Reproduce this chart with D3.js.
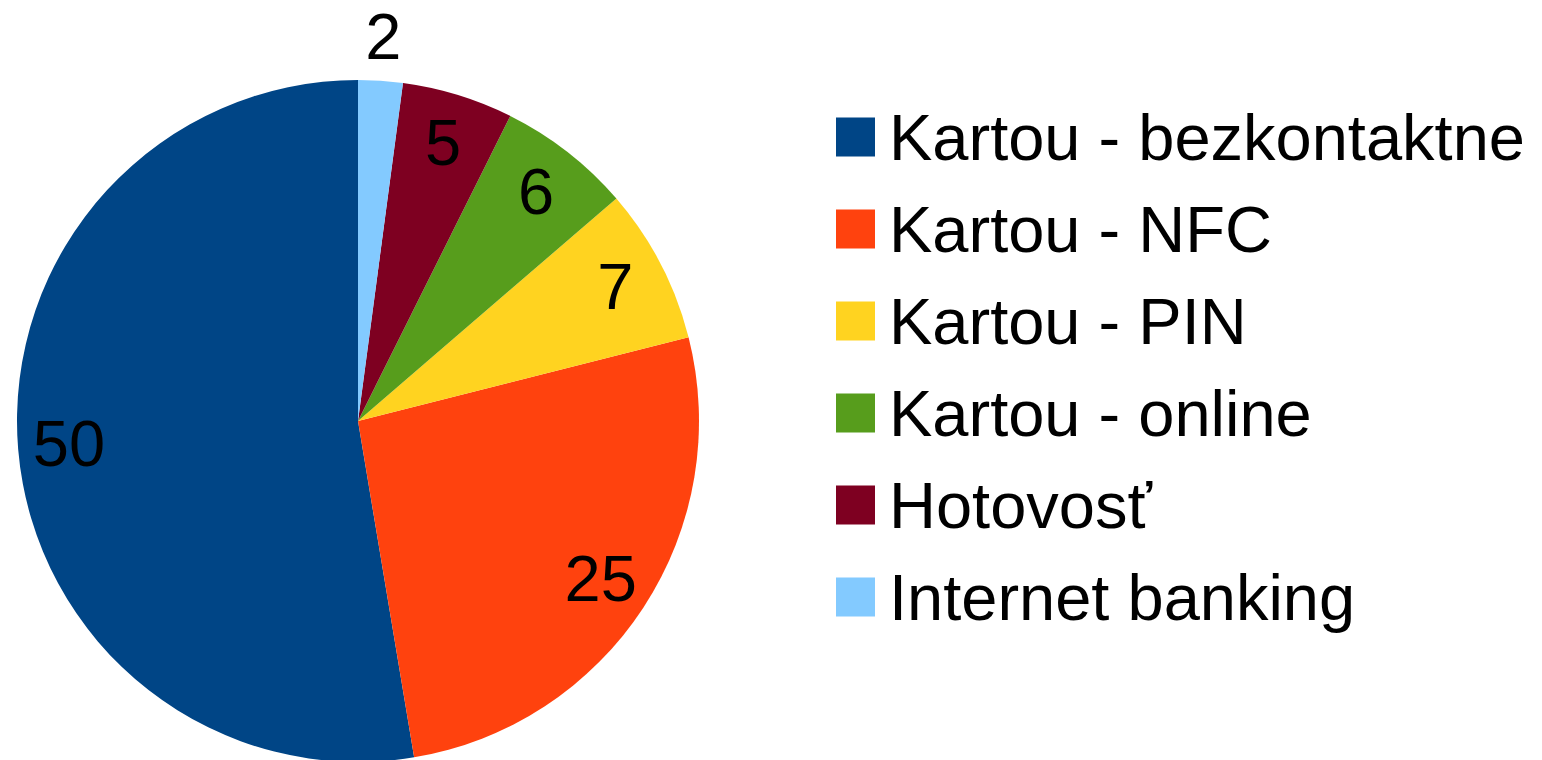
<!DOCTYPE html>
<html>
<head>
<meta charset="utf-8">
<script src="https://cdn.jsdelivr.net/npm/d3@7"></script>
<style>
  html, body { margin: 0; padding: 0; background: #fff; }
  svg { display: block; font-family: "Liberation Sans", Arial, sans-serif; }
</style>
</head>
<body>
<div class="pie"></div>
<script>
let FRAME_WIDTH = 1542;
let FRAME_HEIGHT = 760;

// chart data
let CATEGORIES = ["Kartou - bezkontaktne", "Kartou - NFC", "Kartou - PIN",
                  "Kartou - online", "Hotovosť", "Internet banking"];
let VALUES = [50, 25, 7, 6, 5, 2];
let COLORS = ["#004586", "#ff420e", "#ffd320", "#579d1c", "#7e0021", "#83caff"];

let CENTER = {x: 358, y: 421};
let RADIUS = 341;
let FONT_SIZE = 65;

let FRAME = d3.select(".pie")
              .append("svg")
              .attr("width", FRAME_WIDTH)
              .attr("height", FRAME_HEIGHT);

let data = CATEGORIES.map((c, i) => ({name: c, value: VALUES[i], color: COLORS[i]}));

// slices run counter-clockwise from 12 o'clock
const pie = d3.pie()
              .sort(null)
              .value(d => d.value)
              .startAngle(0)
              .endAngle(-2 * Math.PI);

const arc = d3.arc().innerRadius(0).outerRadius(RADIUS);
const labelArcIn = d3.arc().innerRadius(290).outerRadius(290);
const labelArcOut = d3.arc().innerRadius(384).outerRadius(384);

let g = FRAME.append("g")
             .attr("transform", "translate(" + CENTER.x + "," + CENTER.y + ")");

let arcs = pie(data);

g.selectAll("path")
  .data(arcs)
  .enter()
  .append("path")
    .attr("d", arc)
    .attr("fill", d => d.data.color);

// value labels (small slices sit outside)
g.selectAll("text")
  .data(arcs)
  .enter()
  .append("text")
    .attr("transform", d => {
      let p = d.data.value < 3 ? labelArcOut.centroid(d) : labelArcIn.centroid(d);
      return "translate(" + p[0] + "," + p[1] + ")";
    })
    .attr("text-anchor", "middle")
    .attr("dy", "0.33em")
    .attr("font-size", FONT_SIZE)
    .attr("fill", "#000")
    .text(d => d.data.value);

// legend
let legendY = d3.scalePoint()
                .domain(CATEGORIES)
                .range([137, 597]);

let legend = FRAME.append("g");

legend.selectAll("rect")
  .data(data)
  .enter()
  .append("rect")
    .attr("x", 836)
    .attr("y", d => legendY(d.name) - 19.5)
    .attr("width", 39)
    .attr("height", 39)
    .attr("fill", d => d.color);

legend.selectAll("text")
  .data(data)
  .enter()
  .append("text")
    .attr("x", 889)
    .attr("y", d => legendY(d.name))
    .attr("dy", "0.36em")
    .attr("font-size", FONT_SIZE)
    .attr("fill", "#000")
    .text(d => d.name);
</script>
</body>
</html>
